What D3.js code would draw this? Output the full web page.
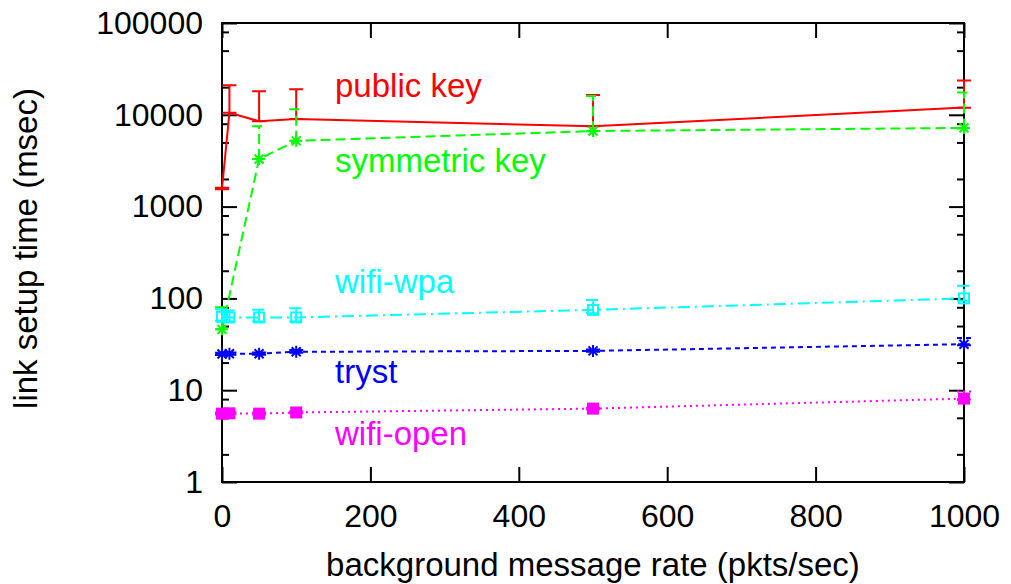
<!DOCTYPE html>
<html><head><meta charset="utf-8">
<script src="https://cdn.jsdelivr.net/npm/d3@7"></script>
<style>
html,body{margin:0;padding:0;background:#fff;}
svg text{font-family:"Liberation Sans",Arial,Helvetica,sans-serif;}
</style></head>
<body>
<svg id="chart" width="1011" height="584"></svg>
<script>
// ---- data ----
const publicX  = [0, 10, 50, 100, 500, 1000];
const publicY  = [1580, 10500, 8500, 9000, 7500, 12000];
const publicLo = [1550, 10500, 8500, 9000, 7500, 11900];
const publicHi = [1600, 21000, 18000, 19000, 16400, 23700];

const symX  = [0, 50, 100, 500, 1000];
const symY  = [46, 3300, 5200, 6650, 7200];
const symLo = [46, 3300, 5200, 6600, 7100];
const symHi = [80, 7500, 11500, 16000, 17500];

const wpaX  = [0, 10, 50, 100, 500, 1000];
const wpaY  = [63, 62, 62, 62, 75, 100];
const wpaLo = [57, 56, 56, 56, 69, 94];
const wpaHi = [76, 74, 75, 78, 96, 137];

const trystX  = [0, 10, 50, 100, 500, 1000];
const trystY  = [24.8, 25, 25, 26.2, 26.8, 31.7];
const trystLo = [24.2, 24.4, 24.4, 25.6, 26.2, 30.8];
const trystHi = [25.6, 25.8, 25.8, 27.4, 27.8, 37];

const openX  = [0, 10, 50, 100, 500, 1000];
const openY  = [5.55, 5.6, 5.55, 5.72, 6.3, 8.1];
const openLo = [5.45, 5.5, 5.45, 5.6, 6.2, 7.9];
const openHi = [5.7, 5.75, 5.7, 5.85, 6.45, 9.7];

const xTicks = [0, 200, 400, 600, 800, 1000];
const yTicks = [1, 10, 100, 1000, 10000, 100000];
const yMinorMult = [2, 5, 8];

const seriesNames = ["public key", "symmetric key", "wifi-wpa", "tryst", "wifi-open"];
const labelValues = [15600, 2380, 114, 12, 2.53]; // label baseline values (log axis)

const xTitle = "background message rate (pkts/sec)";
const yTitle = "link setup time (msec)";

// ---- layout ----
const L = 222, R = 964, T = 23, B = 482;
const svg = d3.select("#chart");
const x = d3.scaleLinear().domain([0, 1000]).range([L, R]);
const y = d3.scaleLog().domain([1, 100000]).range([B, T]);

const minor = [];
yTicks.slice(0, -1).forEach(d => yMinorMult.forEach(m => minor.push(d * m)));

const fs = 32, fs2 = 33;
// axes
const gL = svg.append("g").attr("transform", `translate(${L},0)`)
  .call(d3.axisLeft(y).tickValues(yTicks).tickSize(-15).tickPadding(19).tickFormat(d3.format("d")));
const gLm = svg.append("g").attr("transform", `translate(${L},0)`)
  .call(d3.axisLeft(y).tickValues(minor).tickSize(-7).tickFormat(""));
const gR = svg.append("g").attr("transform", `translate(${R},0)`)
  .call(d3.axisRight(y).tickValues(yTicks).tickSize(-15).tickFormat(""));
const gRm = svg.append("g").attr("transform", `translate(${R},0)`)
  .call(d3.axisRight(y).tickValues(minor).tickSize(-7).tickFormat(""));
const gB = svg.append("g").attr("transform", `translate(0,${B})`)
  .call(d3.axisBottom(x).tickValues(xTicks).tickSize(-15).tickPadding(22).tickFormat(d3.format("d")));
const gT = svg.append("g").attr("transform", `translate(0,${T})`)
  .call(d3.axisTop(x).tickValues(xTicks).tickSize(-15).tickFormat(""));
[gL, gLm, gR, gRm, gB, gT].forEach(g => {
  g.select(".domain").remove();
  g.selectAll(".tick line").attr("stroke", "#000").attr("stroke-width", 2);
  g.selectAll("text").attr("font-size", fs).attr("fill", "#000")
    .attr("font-family", "'Liberation Sans', Arial, sans-serif");
});
svg.append("rect").attr("x", L).attr("y", T).attr("width", R - L).attr("height", B - T)
  .attr("fill", "none").attr("stroke", "#000").attr("stroke-width", 2);

// titles
svg.append("text").attr("x", 593).attr("y", 576).attr("text-anchor", "middle")
  .attr("font-size", fs2).attr("fill", "#000").text(xTitle);
svg.append("text").attr("transform", `translate(37,${(T + B) / 2 - 4}) rotate(-90)`)
  .attr("text-anchor", "middle").attr("font-size", fs2).attr("fill", "#000").text(yTitle);

// series
const series = [
  {xs: publicX, ys: publicY, lo: publicLo, hi: publicHi, color: "#ff0000", dash: null, marker: "none"},
  {xs: symX, ys: symY, lo: symLo, hi: symHi, color: "#00ff00", dash: "10,5", marker: "star"},
  {xs: wpaX, ys: wpaY, lo: wpaLo, hi: wpaHi, color: "#00ffff", dash: "12,5,2,5", marker: "box"},
  {xs: trystX, ys: trystY, lo: trystLo, hi: trystHi, color: "#0000ff", dash: "5,4", marker: "star"},
  {xs: openX, ys: openY, lo: openLo, hi: openHi, color: "#ff00ff", dash: "2,4", marker: "fbox"}
];
const line = d3.line().x(d => x(d[0])).y(d => y(d[1]));
const cap = 7;
series.forEach(s => {
  const g = svg.append("g");
  const pts = s.xs.map((xv, i) => [xv, s.ys[i]]);
  const p = g.append("path").datum(pts).attr("d", line).attr("fill", "none")
    .attr("stroke", s.color).attr("stroke-width", 2);
  if (s.dash) p.attr("stroke-dasharray", s.dash);
  s.xs.forEach((xv, i) => {
    const cx = x(xv), y0 = y(s.lo[i]), y1 = y(s.hi[i]);
    const eb = g.append("path")
      .attr("d", `M${cx},${y0}V${y1}M${cx - cap},${y1}H${cx + cap}M${cx - cap},${y0}H${cx + cap}`)
      .attr("stroke", s.color).attr("stroke-width", 2).attr("fill", "none");
    if (s.dash) eb.attr("stroke-dasharray", s.dash);
    const cy = y(s.ys[i]);
    if (s.marker === "star") {
      const r = 6, q = 4.5;
      g.append("path").attr("d", `M${cx - r},${cy}H${cx + r}M${cx},${cy - r}V${cy + r}M${cx - q},${cy - q}L${cx + q},${cy + q}M${cx - q},${cy + q}L${cx + q},${cy - q}`)
        .attr("stroke", s.color).attr("stroke-width", 2);
    } else if (s.marker === "box") {
      g.append("rect").attr("x", cx - 5).attr("y", cy - 5).attr("width", 10).attr("height", 10)
        .attr("fill", "none").attr("stroke", s.color).attr("stroke-width", 2);
    } else if (s.marker === "fbox") {
      g.append("rect").attr("x", cx - 6).attr("y", cy - 6).attr("width", 12).attr("height", 12)
        .attr("fill", s.color);
    }
  });
});

// series labels
const labelColors = ["#ff0000", "#00ff00", "#00ffff", "#0000ff", "#ff00ff"];
seriesNames.forEach((n, i) => {
  svg.append("text").attr("x", 335).attr("y", y(labelValues[i])).attr("font-size", fs2)
    .attr("fill", labelColors[i]).text(n);
});
</script>
</body></html>
